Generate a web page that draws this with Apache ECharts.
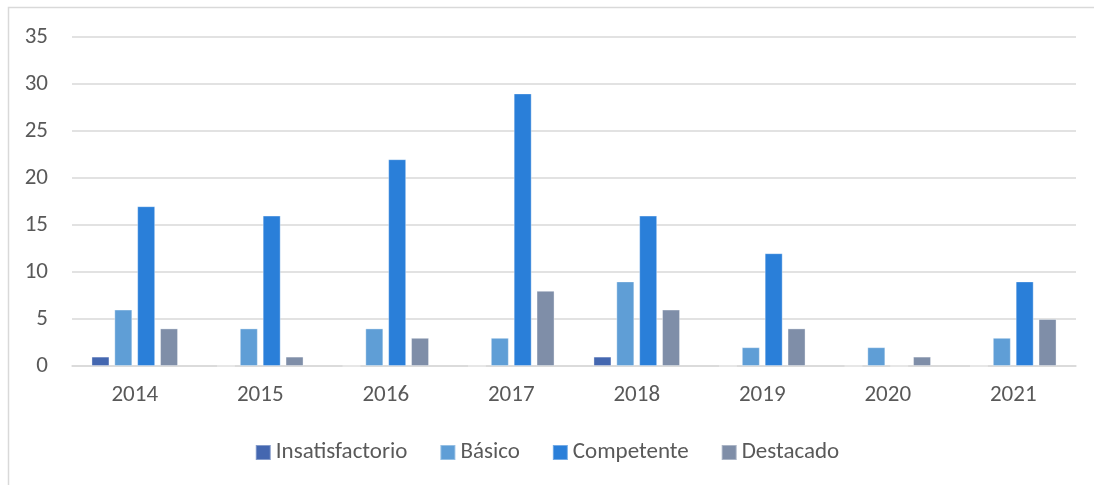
<!DOCTYPE html>
<html><head><meta charset="utf-8">
<script src="https://cdn.jsdelivr.net/npm/echarts@6/dist/echarts.min.js"></script>
<style>html,body{margin:0;padding:0;background:#fff}#c{width:1094px;height:485px}</style>
</head><body><div id="c"></div>
<script>
const categories = ['2014','2015','2016','2017','2018','2019','2020','2021'];
const seriesNames = ['Insatisfactorio','Básico','Competente','Destacado'];
const insatisfactorio = [1,0,0,0,1,0,0,0];
const basico = [6,4,4,3,9,2,2,3];
const competente = [17,16,22,29,16,12,0,9];
const destacado = [4,1,3,8,6,4,1,5];
const yTicks = [0,5,10,15,20,25,30,35];
const colors = ['#4467b0','#5f9ed6','#2a7fd9','#7f8ea8'];
const values = [insatisfactorio, basico, competente, destacado];

const chart = echarts.init(document.getElementById('c'), null, {renderer:'canvas'});
const font = 'Calibri, Carlito, "Open Sans", sans-serif';
chart.setOption({
  animation:false,
  textStyle:{fontFamily:font},
  graphic:[{type:'rect', shape:{x:8.5,y:7.5,width:1200,height:600}, style:{fill:'none',stroke:'#d9d9d9',lineWidth:1.5}}],
  grid:{left:72,right:18,top:37,bottom:119},
  legend:{top:436,left:'center',itemWidth:15,itemHeight:15,itemGap:32,icon:'rect',
    textStyle:{color:'#595959',fontSize:23,fontFamily:font},data:seriesNames},
  xAxis:{type:'category',data:categories,axisTick:{show:false},
    axisLine:{lineStyle:{color:'#d9d9d9',width:1.5}},
    axisLabel:{color:'#595959',fontSize:23,margin:18,fontFamily:font}},
  yAxis:{type:'value',min:yTicks[0],max:yTicks[yTicks.length-1],interval:5,
    axisLabel:{color:'#595959',fontSize:23,margin:24,fontFamily:font},
    splitLine:{lineStyle:{color:'#d9d9d9',width:1.5}},axisLine:{show:false},axisTick:{show:false}},
  series: seriesNames.map((n,i)=>({name:n,type:'bar',data:values[i],
    itemStyle:{color:colors[i],borderColor:'rgba(255,255,255,0.35)',borderWidth:1},
    barWidth:18,barGap:'27%',barCategoryGap:'31%'}))
});
</script></body></html>
